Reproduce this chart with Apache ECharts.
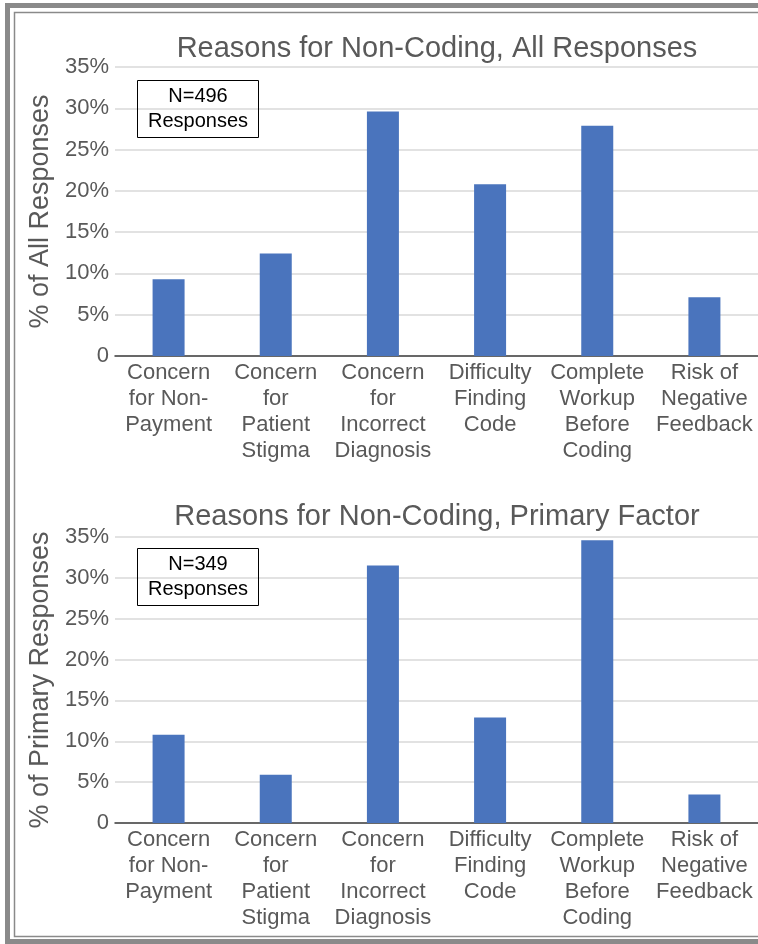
<!DOCTYPE html>
<html>
<head>
<meta charset="utf-8">
<script src="https://cdn.jsdelivr.net/npm/echarts@6/dist/echarts.min.js"></script>
<style>
html,body{margin:0;padding:0;background:#fff;}
#chart{width:758px;height:944px;}
</style>
</head>
<body>
<div id="chart"></div>
<script>
const categories = [
  'Concern\nfor Non-\nPayment',
  'Concern\nfor\nPatient\nStigma',
  'Concern\nfor\nIncorrect\nDiagnosis',
  'Difficulty\nFinding\nCode',
  'Complete\nWorkup\nBefore\nCoding',
  'Risk of\nNegative\nFeedback'
];
const allResponses = [9.3, 12.4, 29.6, 20.8, 27.9, 7.1];
const primaryResponses = [10.8, 5.9, 31.5, 12.9, 34.6, 3.5];
const yTickLabels = ['0', '5%', '10%', '15%', '20%', '25%', '30%', '35%'];
const titleTop = 'Reasons for Non-Coding, All Responses';
const titleBottom = 'Reasons for Non-Coding, Primary Factor';
const yNameTop = '% of All Responses';
const yNameBottom = '% of Primary Responses';
const noteTop = 'N=496\nResponses';
const noteBottom = 'N=349\nResponses';

const FONT = "'Liberation Sans', Arial, sans-serif";
const GREY = '#595959';
const BAR = '#4a74bd';

function yAxis(gridIndex, name) {
  return {
    type: 'value', gridIndex, min: 0, max: 35, interval: 5,
    name, nameLocation: 'middle', nameRotate: 90, nameGap: 61,
    nameTextStyle: { fontFamily: FONT, fontSize: 27, color: GREY },
    axisLine: { show: false }, axisTick: { show: false },
    axisLabel: { fontFamily: FONT, fontSize: 22, color: GREY, margin: 6,
      formatter: v => yTickLabels[Math.round(v / 5)] },
    splitLine: { lineStyle: { color: '#d9d9d9', width: 1.5 } }
  };
}
function xAxis(gridIndex) {
  return {
    type: 'category', gridIndex, data: categories,
    axisTick: { show: false },
    axisLine: { lineStyle: { color: '#404040', width: 1.5 } },
    axisLabel: { fontFamily: FONT, fontSize: 22, color: GREY, lineHeight: 26, margin: 4, interval: 0 }
  };
}
function note(text, top) {
  return {
    text, left: 187, top, textAlign: 'center',
    padding: [4, 11, 4, 11],
    borderColor: '#000', borderWidth: 1,
    textStyle: { fontFamily: FONT, fontSize: 20, fontWeight: 'normal', color: '#000', lineHeight: 25, align: 'center' }
  };
}

const chart = echarts.init(document.getElementById('chart'), null, { renderer: 'canvas' });
chart.setOption({
  animation: false,
  backgroundColor: '#fff',
  title: [
    { text: titleTop, left: 432, top: 29, textAlign: 'center',
      textStyle: { fontFamily: FONT, fontSize: 29, fontWeight: 'normal', color: GREY } },
    { text: titleBottom, left: 432, top: 497, textAlign: 'center',
      textStyle: { fontFamily: FONT, fontSize: 29, fontWeight: 'normal', color: GREY } },
    note(noteTop, 80),
    note(noteBottom, 548)
  ],
  grid: [
    { left: 115, top: 67, width: 645, height: 289 },
    { left: 115, top: 537, width: 645, height: 286 }
  ],
  xAxis: [xAxis(0), xAxis(1)],
  yAxis: [yAxis(0, yNameTop), yAxis(1, yNameBottom)],
  series: [
    { type: 'bar', xAxisIndex: 0, yAxisIndex: 0, data: allResponses, barWidth: 32, itemStyle: { color: BAR } },
    { type: 'bar', xAxisIndex: 1, yAxisIndex: 1, data: primaryResponses, barWidth: 32, itemStyle: { color: BAR } }
  ],
  graphic: [
    { type: 'rect', silent: true, z: 100, shape: { x: 7.5, y: 5.5, width: 800, height: 936 },
      style: { fill: 'none', stroke: '#8a8a8a', lineWidth: 5 } },
    { type: 'rect', silent: true, z: 100, shape: { x: 14.5, y: 12.5, width: 800, height: 924 },
      style: { fill: 'none', stroke: '#8a8a8a', lineWidth: 1.5 } }
  ]
});
</script>
</body>
</html>
